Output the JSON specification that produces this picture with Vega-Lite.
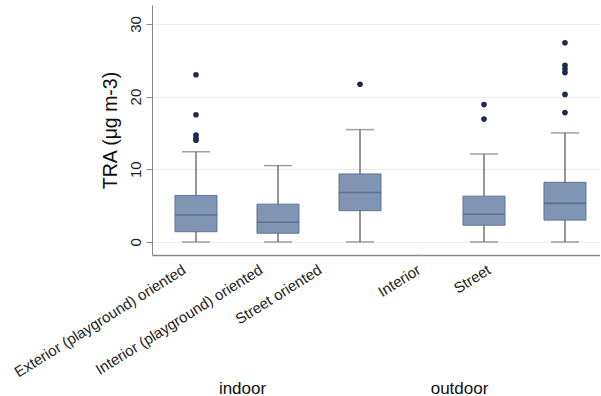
{
  "$schema": "https://vega.github.io/schema/vega-lite/v6.json",
  "padding": {"left": 11, "top": 5, "right": 0, "bottom": 0},
  "background": "white",
  "bounds": "flush",
  "config": {
    "font": "Liberation Sans",
    "view": {"stroke": null},
    "axis": {
      "labelColor": "#222",
      "titleColor": "#111",
      "titleFontWeight": "normal",
      "domainColor": "#888",
      "gridColor": "#ececec",
      "tickColor": "#888"
    }
  },
  "datasets": {
    "boxes": [
      {"group": "indoor", "site": "Exterior (playground) oriented", "lower": 0, "q1": 1.4, "median": 3.7, "q3": 6.4, "upper": 12.4},
      {"group": "indoor", "site": "Interior (playground) oriented", "lower": 0, "q1": 1.2, "median": 2.7, "q3": 5.2, "upper": 10.5},
      {"group": "indoor", "site": "Street oriented", "lower": 0, "q1": 4.3, "median": 6.8, "q3": 9.35, "upper": 15.45},
      {"group": "outdoor", "site": "Interior", "lower": 0, "q1": 2.3, "median": 3.8, "q3": 6.3, "upper": 12.1},
      {"group": "outdoor", "site": "Street", "lower": 0, "q1": 3.0, "median": 5.3, "q3": 8.2, "upper": 15.0}
    ],
    "outliers": [
      {"group": "indoor", "site": "Exterior (playground) oriented", "tra": 23.0},
      {"group": "indoor", "site": "Exterior (playground) oriented", "tra": 17.5},
      {"group": "indoor", "site": "Exterior (playground) oriented", "tra": 14.7},
      {"group": "indoor", "site": "Exterior (playground) oriented", "tra": 14.3},
      {"group": "indoor", "site": "Exterior (playground) oriented", "tra": 14.0},
      {"group": "indoor", "site": "Street oriented", "tra": 21.7},
      {"group": "outdoor", "site": "Interior", "tra": 18.9},
      {"group": "outdoor", "site": "Interior", "tra": 16.9},
      {"group": "outdoor", "site": "Street", "tra": 27.4},
      {"group": "outdoor", "site": "Street", "tra": 24.3},
      {"group": "outdoor", "site": "Street", "tra": 23.8},
      {"group": "outdoor", "site": "Street", "tra": 23.3},
      {"group": "outdoor", "site": "Street", "tra": 20.3},
      {"group": "outdoor", "site": "Street", "tra": 17.8}
    ]
  },
  "spacing": 0,
  "hconcat": [
    {
      "width": 270,
      "height": 250,
      "encoding": {
        "x": {
          "field": "site",
          "type": "nominal",
          "sort": null,
          "scale": {"type": "point", "domain": ["Exterior (playground) oriented", "Interior (playground) oriented", "Street oriented"], "padding": 0.646, "align": 0.415},
          "axis": {
            "title": "indoor",
            "titleFontSize": 17,
            "titleX": 90,
            "titleY": 133,
            "titleBaseline": "middle",
            "titleAlign": "center",
            "labelAngle": -32,
            "labelFontSize": 15,
            "labelPadding": 7,
            "labelLimit": 0,
            "labelOffset": {"expr": "datum.value === 'Street oriented' ? -44 : datum.value === 'Interior (playground) oriented' ? -21 : -16"},
            "ticks": false,
            "domainWidth": 1.5
          }
        }
      },
      "layer": [
        {
          "data": {"name": "boxes"},
          "transform": [{"filter": "datum.group === 'indoor'"}],
          "mark": {"type": "rule", "color": "#6a6a6a", "strokeWidth": 1.4},
          "encoding": {
            "y": {
              "field": "lower",
              "type": "quantitative",
              "scale": {"domain": [-1.8, 32.6], "nice": false, "zero": false},
              "axis": {
                "values": [0, 10, 20, 30],
                "title": "TRA (μg m-3)",
                "titleFontSize": 19.5,
                "titlePadding": 8,
                "labelAngle": -90,
                "labelAlign": "center",
                "labelBaseline": "alphabetic",
                "labelFontSize": 15,
                "labelPadding": 6,
                "tickSize": 6,
                "grid": true
              }
            },
            "y2": {"field": "upper"}
          }
        },
        {
          "data": {"name": "boxes"},
          "transform": [{"filter": "datum.group === 'indoor'"}],
          "mark": {"type": "tick", "color": "#777", "thickness": 1.5, "size": 28},
          "encoding": {"y": {"field": "lower", "type": "quantitative"}}
        },
        {
          "data": {"name": "boxes"},
          "transform": [{"filter": "datum.group === 'indoor'"}],
          "mark": {"type": "tick", "color": "#777", "thickness": 1.5, "size": 28},
          "encoding": {"y": {"field": "upper", "type": "quantitative"}}
        },
        {
          "data": {"name": "boxes"},
          "transform": [{"filter": "datum.group === 'indoor'"}],
          "mark": {"type": "bar", "size": 42, "color": "#7f95b3", "stroke": "#5f7594", "strokeWidth": 1},
          "encoding": {"y": {"field": "q1", "type": "quantitative"}, "y2": {"field": "q3"}}
        },
        {
          "data": {"name": "boxes"},
          "transform": [{"filter": "datum.group === 'indoor'"}],
          "mark": {"type": "tick", "color": "#4d6285", "thickness": 1.6, "size": 42},
          "encoding": {"y": {"field": "median", "type": "quantitative"}}
        },
        {
          "data": {"name": "outliers"},
          "transform": [{"filter": "datum.group === 'indoor'"}],
          "mark": {"type": "point", "filled": true, "color": "#1c2b4c", "opacity": 1, "size": 32},
          "encoding": {"y": {"field": "tra", "type": "quantitative"}}
        }
      ]
    },
    {
      "width": 178,
      "height": 250,
      "encoding": {
        "x": {
          "field": "site",
          "type": "nominal",
          "sort": null,
          "scale": {"type": "point", "domain": ["Interior", "Street"], "padding": 0.599, "align": 0.639},
          "axis": {
            "title": "outdoor",
            "titleFontSize": 17,
            "titleX": 37,
            "titleY": 133,
            "titleBaseline": "middle",
            "titleAlign": "center",
            "labelAngle": -32,
            "labelFontSize": 15,
            "labelPadding": 7,
            "labelLimit": 0,
            "labelOffset": {"expr": "datum.value === 'Street' ? -80 : -69"},
            "ticks": false,
            "domainWidth": 1.5
          }
        }
      },
      "layer": [
        {
          "data": {"name": "boxes"},
          "transform": [{"filter": "datum.group === 'outdoor'"}],
          "mark": {"type": "rule", "color": "#6a6a6a", "strokeWidth": 1.4},
          "encoding": {
            "y": {
              "field": "lower",
              "type": "quantitative",
              "scale": {"domain": [-1.8, 32.6], "nice": false, "zero": false},
              "axis": {"values": [0, 10, 20, 30], "title": null, "labels": false, "ticks": false, "domain": false, "grid": true}
            },
            "y2": {"field": "upper"}
          }
        },
        {
          "data": {"name": "boxes"},
          "transform": [{"filter": "datum.group === 'outdoor'"}],
          "mark": {"type": "tick", "color": "#777", "thickness": 1.5, "size": 28},
          "encoding": {"y": {"field": "lower", "type": "quantitative"}}
        },
        {
          "data": {"name": "boxes"},
          "transform": [{"filter": "datum.group === 'outdoor'"}],
          "mark": {"type": "tick", "color": "#777", "thickness": 1.5, "size": 28},
          "encoding": {"y": {"field": "upper", "type": "quantitative"}}
        },
        {
          "data": {"name": "boxes"},
          "transform": [{"filter": "datum.group === 'outdoor'"}],
          "mark": {"type": "bar", "size": 42, "color": "#7f95b3", "stroke": "#5f7594", "strokeWidth": 1},
          "encoding": {"y": {"field": "q1", "type": "quantitative"}, "y2": {"field": "q3"}}
        },
        {
          "data": {"name": "boxes"},
          "transform": [{"filter": "datum.group === 'outdoor'"}],
          "mark": {"type": "tick", "color": "#4d6285", "thickness": 1.6, "size": 42},
          "encoding": {"y": {"field": "median", "type": "quantitative"}}
        },
        {
          "data": {"name": "outliers"},
          "transform": [{"filter": "datum.group === 'outdoor'"}],
          "mark": {"type": "point", "filled": true, "color": "#1c2b4c", "opacity": 1, "size": 32},
          "encoding": {"y": {"field": "tra", "type": "quantitative"}}
        }
      ]
    }
  ]
}
